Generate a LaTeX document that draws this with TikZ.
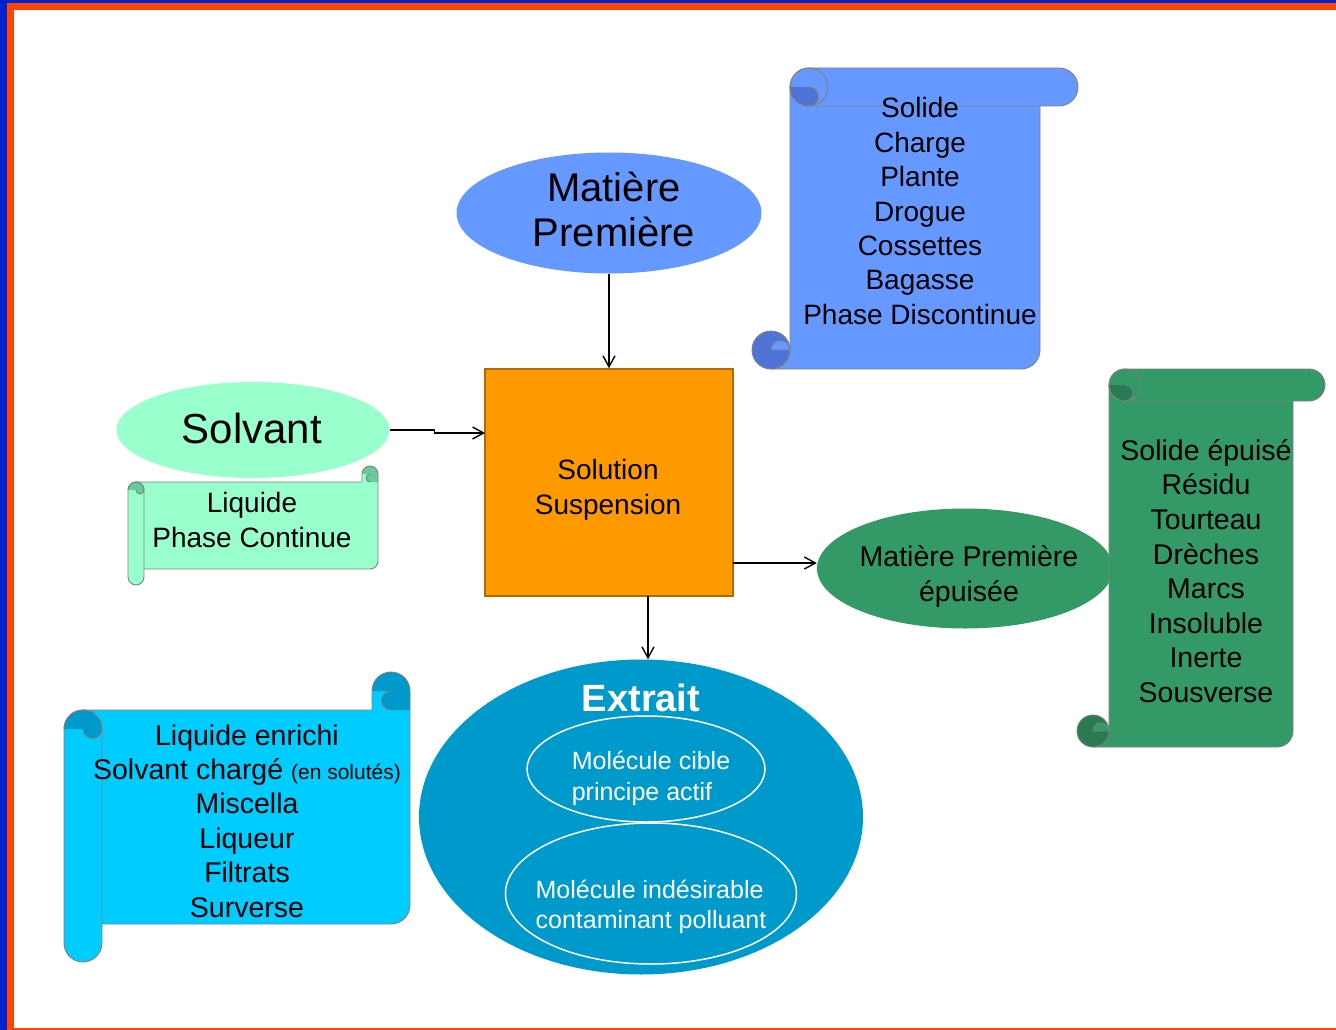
\documentclass[tikz,border=0pt]{standalone}
\usepackage{fontspec}
\setmainfont{Liberation Sans}
\usetikzlibrary{shapes.geometric,arrows.meta}
\definecolor{mpblue}{HTML}{6699FF}
\definecolor{mpdark}{HTML}{4F74D6}
\definecolor{orng}{HTML}{FF9900}
\definecolor{orngdk}{HTML}{B06A00}
\definecolor{mint}{HTML}{99FFCC}
\definecolor{mintdk}{HTML}{66CC99}
\definecolor{grn}{HTML}{339966}
\definecolor{grndk}{HTML}{2A7A54}
\definecolor{cyn}{HTML}{00CCFF}
\definecolor{cyndk}{HTML}{0099CC}
\definecolor{extr}{HTML}{0099CC}
\definecolor{edge}{HTML}{808080}
\definecolor{frameblue}{HTML}{0022CC}
\definecolor{frameorange}{HTML}{FF4400}
\newcommand{\fs}[2]{\fontsize{#1}{#2}\selectfont}
% vertical scroll: x0 y0 x1 y1 d fill dark
\newcommand{\myVscroll}[7]{%
\pgfmathsetmacro{\scXa}{#1}\pgfmathsetmacro{\scYa}{#2}%
\pgfmathsetmacro{\scXb}{#3}\pgfmathsetmacro{\scYb}{#4}%
\pgfmathsetmacro{\scD}{#5}\pgfmathsetmacro{\scR}{#5/2}\pgfmathsetmacro{\scH}{#5/4}%
\filldraw[scrolledge, fill=#6] (\scXa+\scD,\scYa+\scR) -- (\scXb-\scD,\scYa+\scR) -- (\scXb-\scD,\scYb-\scR) arc[start angle=0,end angle=90,radius=\scR] -- (\scXa+\scR,\scYb) -- (\scXa+\scR,\scYb-\scR) -- (\scXa+\scD,\scYb-\scR) -- cycle;
\filldraw[scrolledge, fill=#7] (\scXa+\scR,\scYb-\scR) circle[radius=\scR];
\filldraw[scrolledge, fill=#6] (\scXa+\scR,\scYb-\scR) arc[start angle=180,end angle=360,radius=\scH] -- cycle;
\filldraw[scrolledge, fill=#6] (\scXa+\scD+\scR,\scYa) -- (\scXb-\scR,\scYa) arc[start angle=270,end angle=450,radius=\scR] -- (\scXa+\scD+\scR,\scYa+\scD) arc[start angle=90,end angle=270,radius=\scR] -- cycle;
\fill[#7] (\scXa+\scD,\scYa+\scR) arc[start angle=180,end angle=90,radius=\scR] arc[start angle=90,end angle=-90,radius=\scH] -- cycle;
\draw[scrolledge] (\scXa+\scD+\scR,\scYa+\scD) arc[start angle=90,end angle=-90,radius=\scH];
\draw[scrolledge] (\scXa+\scD+\scR,\scYa) arc[start angle=270,end angle=450,radius=\scR];
\draw[scrolledge] (\scXa+\scD+\scR,\scYa+\scD) arc[start angle=90,end angle=270,radius=\scR];
}
% horizontal scroll: x0 y0 x1 y1 d fill dark
\newcommand{\myHscroll}[7]{%
\pgfmathsetmacro{\scXa}{#1}\pgfmathsetmacro{\scYa}{#2}%
\pgfmathsetmacro{\scXb}{#3}\pgfmathsetmacro{\scYb}{#4}%
\pgfmathsetmacro{\scD}{#5}\pgfmathsetmacro{\scR}{#5/2}\pgfmathsetmacro{\scH}{#5/4}%
\fill[#6] (\scXa+\scR,\scYa+\scD) -- (\scXb-\scD,\scYa+\scD) -- (\scXb-\scD,\scYa+\scR) arc[start angle=180,end angle=360,radius=\scR] -- (\scXb,\scYb-\scD-\scR) arc[start angle=0,end angle=90,radius=\scR] -- (\scXa+\scR,\scYb-\scD) -- cycle;
\fill[#7] (\scXb-\scD,\scYa+\scR) arc[start angle=180,end angle=360,radius=\scR] -- (\scXb,\scYa+\scD) -- (\scXb-\scR,\scYa+\scD) arc[start angle=90,end angle=270,radius=\scH] -- cycle;
\draw[scrolledge] (\scXa+\scR,\scYa+\scD) -- (\scXb-\scD,\scYa+\scD) -- (\scXb-\scD,\scYa+\scR) arc[start angle=180,end angle=360,radius=\scR] -- (\scXb,\scYb-\scD-\scR) arc[start angle=0,end angle=90,radius=\scR] -- (\scXa+\scR,\scYb-\scD);
\draw[scrolledge] (\scXb-\scR,\scYa+\scD) arc[start angle=90,end angle=270,radius=\scH];
\filldraw[scrolledge, fill=#6] (\scXa,\scYa+\scD+\scR) arc[start angle=180,end angle=360,radius=\scR] -- (\scXa+\scD,\scYb-\scR) arc[start angle=0,end angle=180,radius=\scR] -- cycle;
\fill[#7] (\scXa,\scYa+\scD+\scR) arc[start angle=180,end angle=360,radius=\scR] arc[start angle=0,end angle=180,radius=\scH] -- cycle;
\draw[scrolledge] (\scXa,\scYa+\scD+\scR) arc[start angle=180,end angle=360,radius=\scR] arc[start angle=0,end angle=180,radius=\scH];
}
\begin{document}
\begin{tikzpicture}[x=1pt,y=-1pt,
  scrolledge/.style={draw=edge,line width=0.9pt},
  arr/.style={-{Straight Barb[length=11pt,width=12pt]}, line width=1.4pt},
  lbl/.style={inner sep=0pt, align=center}]
\useasboundingbox (0,0) rectangle (1336,1030);
\fill[white] (0,0) rectangle (1336,1030);

% Matiere premiere
\node[ellipse, fill=mpblue, minimum width=305pt, minimum height=121pt, inner sep=0pt] (mp) at (609,213) {};
\node[lbl, font=\fs{40}{45}] (mptxt) at (614,209) {Matière\\Première};

% blue scroll
\myVscroll{752}{68}{1078}{369}{38}{mpblue}{mpdark}
\node[lbl, font=\fs{28}{34.4}] (bluetxt) at (920,211) {Solide\\Charge\\Plante\\Drogue\\Cossettes\\Bagasse\\Phase Discontinue};

% solvant
\node[ellipse, fill=mint, minimum width=273pt, minimum height=96pt, inner sep=0pt] (solv) at (253,430) {};
\node[lbl, font=\fs{42}{48}] (solvtxt) at (252,428) {Solvant};
\myHscroll{128}{466}{378}{585}{16}{mint}{mintdk}
\node[lbl, font=\fs{28}{35}] (minttxt) at (252,520) {Liquide\\Phase Continue};

% solution square
\node[rectangle, fill=orng, draw=orngdk, line width=1.5pt, minimum width=248pt, minimum height=227pt, inner sep=0pt] (sq) at (609,482.5) {};
\node[lbl, font=\fs{28}{35}] (sqtxt) at (608,490) {Solution\\Suspension};

% green ellipse and scroll
\node[ellipse, fill=grn, minimum width=296pt, minimum height=120pt, inner sep=0pt] (ge) at (965,568.5) {};
\node[lbl, font=\fs{28.5}{35}] (getxt) at (969,576) {Matière Première\\épuisée};
\myVscroll{1077}{369}{1325}{747}{32}{grn}{grndk}
\node[lbl, font=\fs{28.5}{34.6}] (grntxt) at (1206,571) {Solide épuisé\\Résidu\\Tourteau\\Drèches\\Marcs\\Insoluble\\Inerte\\Sousverse};

% cyan scroll
\myHscroll{64}{672}{410}{962}{38}{cyn}{cyndk}
\node[lbl, font=\fs{28.5}{34.4}] (cyntxt) at (247,821) {Liquide enrichi\\Solvant chargé {\fs{21}{25}(en solutés)}\\Miscella\\Liqueur\\Filtrats\\Surverse};

% extrait
\node[ellipse, fill=extr, minimum width=444pt, minimum height=315pt, inner sep=0pt] (ex) at (641,817) {};
\node[lbl, font=\bfseries\fs{38}{40}, text=white] (extxt) at (641,697.5) {Extrait};
\node[ellipse, draw=white, line width=1.5pt, minimum width=238pt, minimum height=106pt, inner sep=0pt] (m1) at (646,769) {};
\node[inner sep=0pt, align=left, font=\fs{25}{31}, text=white] (m1txt) at (651,778) {Molécule cible\\principe actif};
\node[ellipse, draw=white, line width=1.5pt, minimum width=291pt, minimum height=141pt, inner sep=0pt] (m2) at (651,893.5) {};
\node[inner sep=0pt, align=left, font=\fs{25}{30}, text=white] (m2txt) at (651,907) {Molécule indésirable\\contaminant polluant};

% connectors
\draw[arr] (mp.south) -- (sq.north);
\coordinate (sqin) at (485,433);
\draw[arr] (solv.east) -- ++(45,0) |- (sqin);
\coordinate (sqout) at (733,563);
\draw[arr] (sqout) -- (sqout -| ge.west);
\coordinate (sqbot) at (648,596);
\draw[arr] (sqbot) -- (sqbot |- ex.north);

% frame
\fill[frameblue] (0,0) rectangle (7,1030);
\fill[frameblue] (0,0) rectangle (1336,3);
\fill[frameorange] (7,3) rectangle (14,1030);
\fill[frameorange] (7,3) rectangle (1336,10);
\fill[frameorange] (14,1027.5) rectangle (1336,1030);
\end{tikzpicture}
\end{document}
